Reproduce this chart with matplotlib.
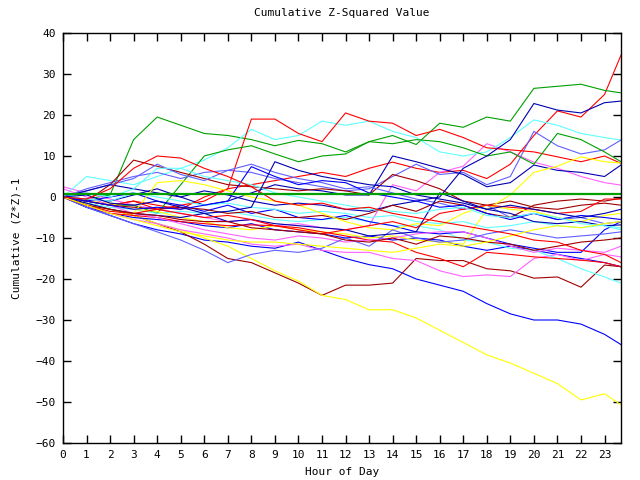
import matplotlib
matplotlib.use("Agg")
import matplotlib.pyplot as plt

# hour positions of the read-off points (last point = right edge of the data)
hours = list(range(24)) + [23.7]

# series values at each hour
red_a = [0, -1, -2, -1, -2, -3, 0, 2, 3, 4, 5, 6, 5, 7, 8.5, 7, 6, 6.5, 4.5, 8, 15, 21, 19.5, 25, 34.6]
red_b = [0, -1, -2, -1, -3, -2, -1, 2, 19, 19, 15.5, 13.5, 20.5, 18.5, 18, 15, 16.5, 14.5, 12, 11.5, 11, 9.8, 8.6, 10, 8.2]
red_d = [0, -2, -4, -4.5, -5, -6, -6.5, -7, -6.8, -7, -7.5, -8.5, -9.5, -10.5, -11, -13.5, -15, -17, -13.5, -14, -14.6, -15, -15.4, -16, -17]
red_e = [0, -2, -3.5, -4, -3, -4, -5, -4.5, -5.5, -7, -8, -9, -8, -7, -6, -7.5, -4, -3, -2, -2.5, -3, -4, -3.5, -0.5, -0.5]
red_f = [0, -0.5, 2, 7, 10, 9.5, 7, 5, 2.5, -1, -2, -1.5, -3, -2.5, -4, -5, -6, -7, -8, -9, -10.5, -11, -13, -14, -16]
green_a = [0, -0.5, 0.5, 14, 19.5, 17.5, 15.5, 15, 14, 12.5, 13.8, 13, 11, 13.5, 15, 12.8, 18, 17, 19.5, 18.5, 26.5, 27, 27.5, 26, 25.4]
green_b = [0, -1, -2, -2, -4, 3, 10, 11.5, 12.5, 10.5, 8.6, 10, 10.5, 13.5, 13, 14, 13.5, 12, 10, 11, 8, 15.5, 14, 11, 8.6]
green_flat = [0.7] * 25
blue_a = [0, 1.5, 3, 2, 1, 0, 1.5, 0.5, -1, -2, -1.5, -2, -3, -3.5, -2, -1, 0, 7, 10, 14, 22.8, 21.2, 20.5, 23, 23.4]
blue_b = [0, -2.5, -4.5, -6.5, -8, -9, -10.5, -11, -12, -12.5, -11, -13, -15, -16.5, -17.5, -20, -21.5, -23, -26, -28.5, -30, -30, -31, -33.5, -36]
blue_c = [0, -2.5, -4, -5, -5.5, -6, -7, -7.5, -6.5, -8, -8.5, -9, -10, -9.5, -10.5, -10, -10.5, -12, -13, -12, -13, -14, -15, -16, -17]
blue_d = [0, -1, 0, 1, -1, -2, -3.5, -2, -4, -3, -5, -5.5, -4.5, -6, -7, -8.5, -9, -8.5, -10, -11.5, -12.5, -13.5, -13.5, -8, -6]
blue_e = [0, -1.5, -3, -4, -4.5, -5, -4, -6, -5.5, -6.5, -7, -7.5, -8, -9.5, -9, -8.5, 1, -1, -3, -4, -6, -6.5, -6, -7, -6.8]
blue_f = [0, -1, -2, -3, -2.5, -3, -2, -1, 7.4, 5, 3, 4, 3.5, 1, 0, -1, -2.5, -2, -4, -5.5, -4, -5.5, -4.5, -5, -5.5]
blue_g = [0, 0.5, -1.5, -2, -1, -2.5, -4, -3.5, -2.5, 8.6, 6.5, 5, 4, 3, 2.5, 0.5, -0.5, -1.5, -3, -2, -3, -4, -5, -4, -3]
navy_a = [0, -0.5, -1, 0.5, 2, 0, -2, -1, 1, 3, 2, 1.5, 0.5, 0.5, 10, 8.6, 7, 5.5, 2.5, 3.5, 7.8, 6.5, 6, 5, 7.8]
slate_a = [0, 2, 3.5, 5, 6, 4.5, 6, 6.5, 6, 4.5, 3.5, 2.5, 1.5, 2, 5, 8, 5.5, 6, 3, 5, 16, 12.5, 10.5, 11.5, 13.9]
slate_b = [0, 1.5, 3, 4.5, 8, 5.5, 4, 6.5, 8, 6, 4.5, 3.5, 2, 2.5, 1, -0.5, -1.5, -3, -2, -5, -4, -5.5, -5, -6.5, -6]
slate_c = [0, -2.5, -4.5, -6.5, -8.5, -10.5, -13, -16, -14, -13, -13.5, -12.5, -10, -12, -8, -10, -11, -10.5, -9, -8, -9, -10, -9.5, -9, -8.5]
magenta_a = [2.5, 1, -0.5, -2, -3, -4, -5, -6, -5.5, -7, -6.5, -7.5, -8, -7, 3, 1.5, 6, 7.5, 13, 11, 8.5, 7, 5, 3.5, 2.9]
magenta_b = [0, -2, -4, -5.5, -6.5, -8, -9, -10, -11.5, -12, -11.5, -13, -13.5, -13.5, -15, -15.5, -18, -19.4, -19, -19.4, -15, -14, -15.5, -14, -14.6]
magenta_c = [2, 0, -2, -4, -5, -6.5, -8, -9, -10, -10.5, -9.5, -10, -11, -10.5, -10, -9, -8.5, -8.5, -10, -12, -13.5, -12.5, -13, -13.5, -12]
cyan_a = [0, 5, 4, 3, 5, 7, 9, 12, 16.5, 14, 15, 18.5, 17.5, 18.5, 16, 14.5, 11, 10, 11, 14.5, 18.8, 17.5, 15.5, 14.5, 13.9]
cyan_b = [0, -1.5, -2.5, -3, -4, -3.5, -4, -3.5, -4.5, -5.5, -6, -5.5, -5, -6, -7, -7, -8, -10.5, -11, -12.5, -13, -15, -17.5, -19.5, -21]
cyan_c = [0, -0.5, -1, 1, 0, -1, -2, -1.5, -2.5, -3, -4, -3.5, -4, -5, -4.5, -6, -6.5, -6, -7.5, -7, -6, -7, -7.5, -6.8, -7.6]
cyan_d = [0, 1, 0, 2, 7, 7, 5, 4, 3, 1, 0, -1, -2, -3, -3.5, -4, -3, -2.5, -4.5, -5, -4, -5, -6.5, -7, -8]
darkred_a = [0, -1.5, -3, -4.5, -6.5, -8.5, -11.5, -15, -16, -18.5, -21, -24, -21.5, -21.5, -21, -15, -15.5, -15.5, -17.5, -18, -19.8, -19.5, -22, -16.6, -17]
darkred_b = [0, -1, 3, 9, 7.5, 6, 4.5, 3, 2.5, 2, 1.5, 2, 1.5, 0.5, 5.5, 4, 2, -1, -2, -1, -2.5, -3, -2, -1.5, -2]
darkred_c = [0, -1, -2, -2.5, -3, -2.5, -3, -4, -3.5, -5, -5, -4.5, -5.5, -4, -2, -3.5, -1, -2, -4, -5, -2, -1, -0.5, -1, -0.3]
darkred_d = [0, -2, -3, -4, -4.5, -5.5, -6, -6, -7.5, -8, -8.5, -9, -10.5, -11, -10, -11.5, -9.5, -10, -11, -11.5, -13, -12, -11, -10.5, -10]
yellow_a = [0, -1.5, -3, -4.5, -6.5, -8, -10, -12, -15, -18, -20.5, -24, -25, -27.5, -27.5, -29.5, -32.5, -35.5, -38.5, -40.5, -43, -45.5, -49.5, -48, -50.7]
yellow_b = [0, -1, -1.5, -3, -3.5, -5, -6, -7.5, -8, -7, -8, -8.5, -9, -10, -9.5, -10.5, -11, -11.5, -3, 0.5, 6, 7.5, 9.8, 8.6, 8.3]
yellow_c = [0, -2, -3, -4, 3.5, 4, 3, 1.5, 0, -1, -2, -4, -6, -7.5, -8, -6.5, -7, -4, -2, -3, -3.5, -5, -6, -4.5, -4]
yellow_d = [0, -2, -4, -5.5, -7, -8.5, -9.5, -10.5, -11, -11, -11.5, -12, -12.5, -13, -13.5, -12.5, -11.5, -12, -11, -9.5, -8, -7, -7.5, -6.5, -6]

RED, GREEN, BLUE, MAGENTA, CYAN = "#ff0000", "#00a000", "#0000ff", "#ff60ff", "#60ffff"
DARKRED, YELLOW, SLATE, NAVY = "#a00000", "#ffff00", "#6060ff", "#0000b0"

series = [
    (red_a, RED), (green_a, GREEN), (blue_b, BLUE), (magenta_a, MAGENTA), (cyan_a, CYAN),
    (darkred_a, DARKRED), (yellow_a, YELLOW), (slate_a, SLATE), (navy_a, NAVY),
    (red_b, RED), (green_b, GREEN), (blue_c, BLUE), (magenta_b, MAGENTA), (cyan_b, CYAN),
    (darkred_b, DARKRED), (yellow_b, YELLOW), (slate_b, SLATE), (blue_a, NAVY),
    (red_d, RED), (blue_d, BLUE), (magenta_c, MAGENTA), (cyan_c, CYAN),
    (darkred_c, DARKRED), (yellow_c, YELLOW), (slate_c, SLATE), (blue_e, NAVY),
    (red_e, RED), (blue_f, BLUE), (cyan_d, CYAN), (darkred_d, DARKRED),
    (yellow_d, YELLOW), (blue_g, NAVY), (red_f, RED),
]

fig = plt.figure(figsize=(6.4, 4.8), dpi=100)
ax = fig.add_axes([63 / 640, 37 / 480, 558 / 640, 410 / 480])

for vals, col in series:
    ax.plot(hours, vals, color=col, lw=0.8)
ax.plot(hours, green_flat, color=GREEN, lw=1.6)

ax.set_xlim(0, 23.7)
ax.set_ylim(-60, 40)
ax.set_xticks(range(24))
ax.set_yticks(range(-60, 41, 10))
mono = "DejaVu Sans Mono"
ax.tick_params(direction="in", length=6, width=1, top=True, right=True,
               labelsize=8, pad=5)
for lab in ax.get_xticklabels() + ax.get_yticklabels():
    lab.set_family(mono)
for s in ax.spines.values():
    s.set_linewidth(1)
    s.set_color("black")

ax.set_title("Cumulative Z-Squared Value", fontsize=8, family=mono, pad=12)
ax.set_xlabel("Hour of Day", fontsize=8, family=mono, labelpad=5)
ax.set_ylabel("Cumulative (Z*Z)-1", fontsize=8, family=mono, labelpad=10)

fig.savefig("out.png", dpi=100)
